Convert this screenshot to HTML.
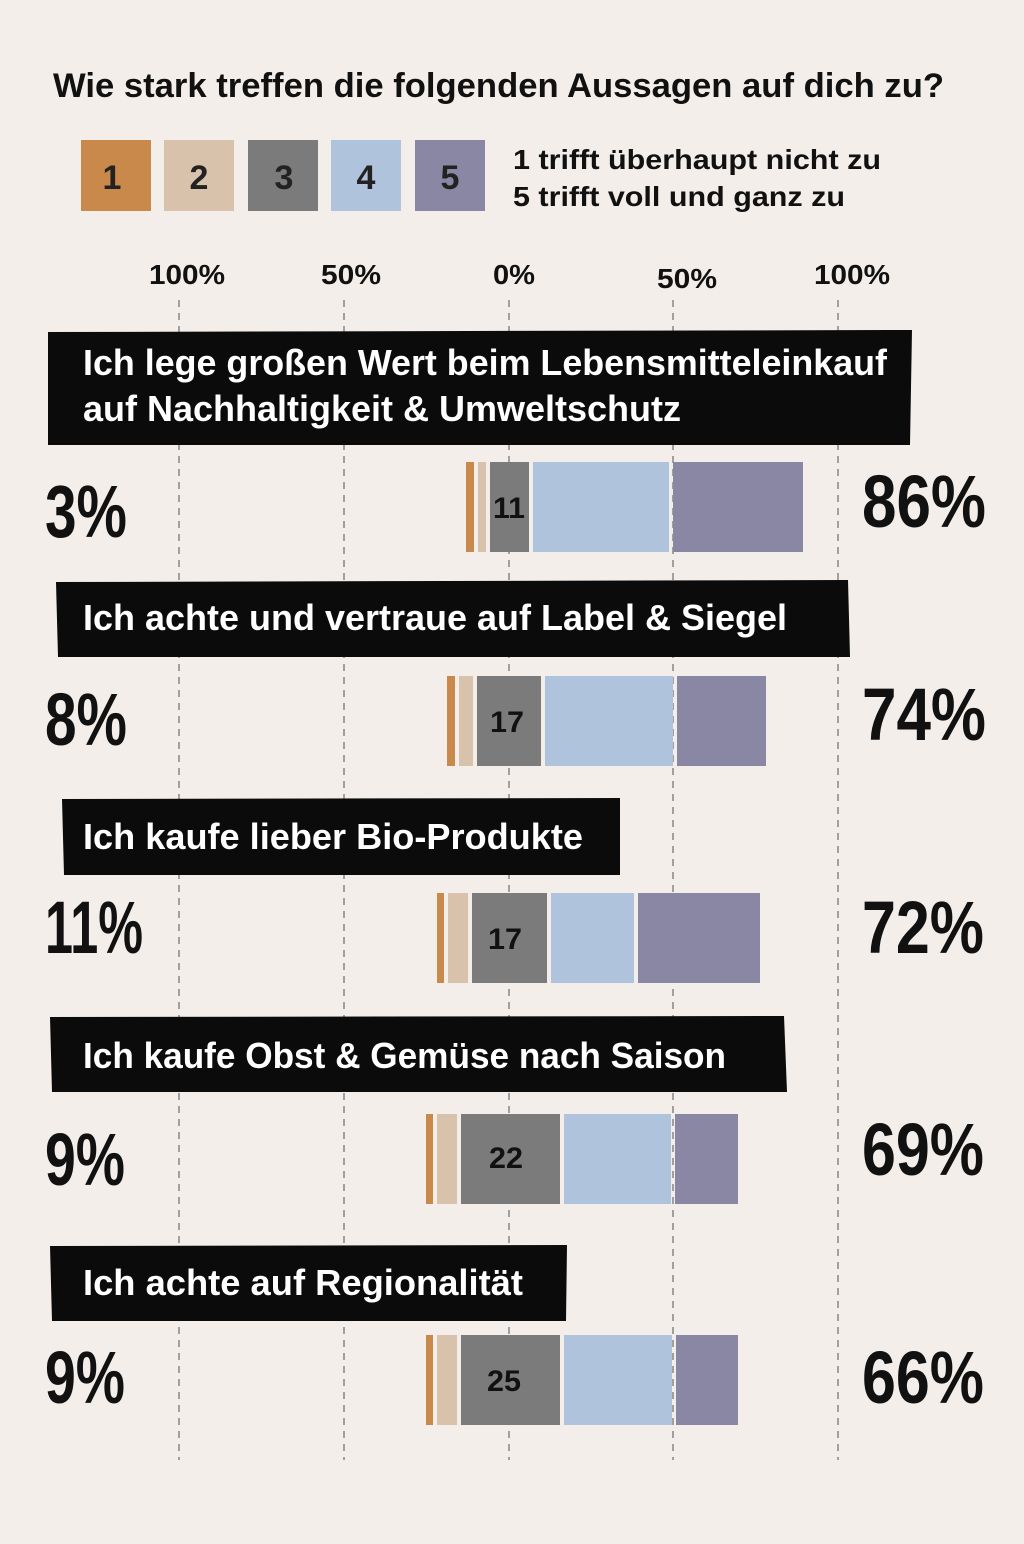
<!DOCTYPE html>
<html><head><meta charset="utf-8"><style>
html,body{margin:0;padding:0;background:#f3eee9;}
svg{display:block}
text{font-family:"Liberation Sans",sans-serif;font-weight:bold;}
</style></head><body>
<svg width="1024" height="1544" viewBox="0 0 1024 1544" xmlns="http://www.w3.org/2000/svg">
<rect width="1024" height="1544" fill="#f3eee9"/>
<text x="53" y="97" font-size="34" fill="#111" textLength="891" lengthAdjust="spacingAndGlyphs">Wie stark treffen die folgenden Aussagen auf dich zu?</text>
<g font-size="34" text-anchor="middle" fill="#222">
<rect x="81" y="140" width="70" height="71" fill="#c8894a"/><text x="112" y="189">1</text>
<rect x="164" y="140" width="70" height="71" fill="#d9c2ab"/><text x="199" y="189">2</text>
<rect x="248" y="140" width="70" height="71" fill="#7b7b7b"/><text x="284" y="189">3</text>
<rect x="331" y="140" width="70" height="71" fill="#b0c3dc"/><text x="366" y="189">4</text>
<rect x="415" y="140" width="70" height="71" fill="#8a87a5"/><text x="450" y="189">5</text>
</g>
<text x="513" y="169" font-size="28" fill="#111" textLength="368" lengthAdjust="spacingAndGlyphs">1 trifft überhaupt nicht zu</text>
<text x="513" y="206" font-size="28" fill="#111" textLength="332" lengthAdjust="spacingAndGlyphs">5 trifft voll und ganz zu</text>
<g font-size="28" fill="#111">
<text x="149" y="284" textLength="76" lengthAdjust="spacingAndGlyphs">100%</text>
<text x="321" y="284" textLength="60" lengthAdjust="spacingAndGlyphs">50%</text>
<text x="493" y="284" textLength="42" lengthAdjust="spacingAndGlyphs">0%</text>
<text x="657" y="288" textLength="60" lengthAdjust="spacingAndGlyphs">50%</text>
<text x="814" y="284" textLength="76" lengthAdjust="spacingAndGlyphs">100%</text>
</g>
<g stroke="#777" stroke-width="1.3" stroke-dasharray="7,6">
<line x1="179" y1="300" x2="179" y2="1460"/><line x1="344" y1="300" x2="344" y2="1460"/>
<line x1="509" y1="300" x2="509" y2="1460"/><line x1="673" y1="300" x2="673" y2="1460"/>
<line x1="838" y1="300" x2="838" y2="1460"/>
</g>
<!-- banners -->
<g fill="#0b0b0b">
<polygon points="48,332 912,330 910,445 48,445"/>
<polygon points="56,582 848,580 850,657 58,657"/>
<polygon points="62,799 620,798 620,875 64,875"/>
<polygon points="50,1017 784,1016 787,1092 52,1092"/>
<polygon points="50,1246 567,1245 566,1321 52,1321"/>
</g>
<g font-size="36" fill="#fff">
<text x="83" y="375" textLength="804" lengthAdjust="spacingAndGlyphs">Ich lege großen Wert beim Lebensmitteleinkauf</text>
<text x="83" y="421" textLength="598" lengthAdjust="spacingAndGlyphs">auf Nachhaltigkeit &amp; Umweltschutz</text>
<text x="83" y="630" textLength="704" lengthAdjust="spacingAndGlyphs">Ich achte und vertraue auf Label &amp; Siegel</text>
<text x="83" y="849" textLength="500" lengthAdjust="spacingAndGlyphs">Ich kaufe lieber Bio-Produkte</text>
<text x="83" y="1068" textLength="643" lengthAdjust="spacingAndGlyphs">Ich kaufe Obst &amp; Gemüse nach Saison</text>
<text x="83" y="1295" textLength="440" lengthAdjust="spacingAndGlyphs">Ich achte auf Regionalität</text>
</g>
<!-- bars -->
<g>
<rect x="466" y="462" width="8" height="90" fill="#c8894a"/><rect x="478" y="462" width="8" height="90" fill="#d9c2ab"/><rect x="490" y="462" width="39" height="90" fill="#7b7b7b"/><rect x="533" y="462" width="136" height="90" fill="#b0c3dc"/><rect x="673" y="462" width="130" height="90" fill="#8a87a5"/>
<rect x="447" y="676" width="8" height="90" fill="#c8894a"/><rect x="459" y="676" width="14" height="90" fill="#d9c2ab"/><rect x="477" y="676" width="64" height="90" fill="#7b7b7b"/><rect x="545" y="676" width="128" height="90" fill="#b0c3dc"/><rect x="677" y="676" width="89" height="90" fill="#8a87a5"/>
<rect x="437" y="893" width="7" height="90" fill="#c8894a"/><rect x="448" y="893" width="20" height="90" fill="#d9c2ab"/><rect x="472" y="893" width="75" height="90" fill="#7b7b7b"/><rect x="551" y="893" width="83" height="90" fill="#b0c3dc"/><rect x="638" y="893" width="122" height="90" fill="#8a87a5"/>
<rect x="426" y="1114" width="7" height="90" fill="#c8894a"/><rect x="437" y="1114" width="20" height="90" fill="#d9c2ab"/><rect x="461" y="1114" width="99" height="90" fill="#7b7b7b"/><rect x="564" y="1114" width="107" height="90" fill="#b0c3dc"/><rect x="675" y="1114" width="63" height="90" fill="#8a87a5"/>
<rect x="426" y="1335" width="7" height="90" fill="#c8894a"/><rect x="437" y="1335" width="20" height="90" fill="#d9c2ab"/><rect x="461" y="1335" width="99" height="90" fill="#7b7b7b"/><rect x="564" y="1335" width="108" height="90" fill="#b0c3dc"/><rect x="676" y="1335" width="62" height="90" fill="#8a87a5"/>
</g>
<g font-size="30" fill="#111">
<text x="493" y="518" textLength="32" lengthAdjust="spacingAndGlyphs">11</text>
<text x="490" y="732" textLength="34" lengthAdjust="spacingAndGlyphs">17</text>
<text x="488" y="949" textLength="34" lengthAdjust="spacingAndGlyphs">17</text>
<text x="489" y="1168" textLength="34" lengthAdjust="spacingAndGlyphs">22</text>
<text x="487" y="1391" textLength="34" lengthAdjust="spacingAndGlyphs">25</text>
</g>
<g fill="#111">
<text x="45" y="537" font-size="74" textLength="82" lengthAdjust="spacingAndGlyphs">3%</text>
<text x="862" y="527" font-size="74" textLength="124" lengthAdjust="spacingAndGlyphs">86%</text>
<text x="45" y="745" font-size="74" textLength="82" lengthAdjust="spacingAndGlyphs">8%</text>
<text x="862" y="740" font-size="74" textLength="124" lengthAdjust="spacingAndGlyphs">74%</text>
<text x="45" y="953" font-size="74" textLength="98" lengthAdjust="spacingAndGlyphs">11%</text>
<text x="862" y="953" font-size="74" textLength="122" lengthAdjust="spacingAndGlyphs">72%</text>
<text x="45" y="1185" font-size="74" textLength="80" lengthAdjust="spacingAndGlyphs">9%</text>
<text x="862" y="1175" font-size="74" textLength="122" lengthAdjust="spacingAndGlyphs">69%</text>
<text x="45" y="1403" font-size="74" textLength="80" lengthAdjust="spacingAndGlyphs">9%</text>
<text x="862" y="1403" font-size="74" textLength="122" lengthAdjust="spacingAndGlyphs">66%</text>
</g>
</svg>
</body></html>
